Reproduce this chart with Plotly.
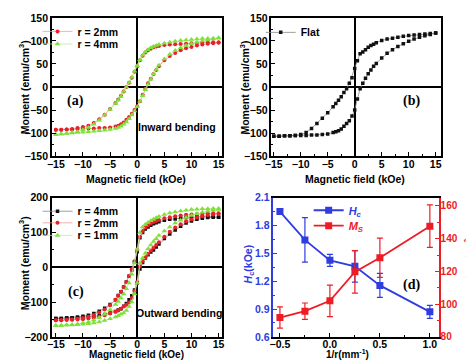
import plotly.graph_objects as go

# ---------------- data ----------------
H_DESC = [15, 14, 13, 12, 11, 10, 9, 8, 7, 6, 5, 4, 3.5, 3, 2.5, 2, 1.5, 1, 0.5, 0,
          -0.5, -1, -1.5, -2, -2.5, -3, -3.5, -4, -5, -6, -7, -8, -9, -10, -11, -12, -13, -14, -15]
H_ASC = [-15, -14, -13, -12, -11, -10, -9, -8, -7, -6, -5, -4, -3.5, -3, -2.5, -2, -1.5, -1, -0.5, 0,
         0.5, 1, 1.5, 2, 2.5, 3, 3.5, 4, 5, 6, 7, 8, 9, 10, 11, 12, 13, 14, 15]

# (a) inward bending
A_R2_UP = [97, 97, 96.5, 96, 95.5, 95, 94, 93.5, 93, 92, 91, 89,
           88, 86, 83, 80, 75, 68, 58, 45, 33, 20, 9, 0, -10, -19, -27, -35,
           -48, -60, -70, -78, -84, -87, -89, -91, -92, -93, -93]
A_R2_LO = [-93, -93, -92, -92, -91, -91, -90, -90, -89, -89, -88,
           -86, -84, -81, -77, -71, -65, -58, -50, -42, -31, -17, -4, 8, 18, 28, 37,
           45, 58, 67, 74, 80, 84, 87, 90, 92, 94, 95, 96]
A_R4_UP = [107, 106, 105.5, 105, 104, 103, 102, 101, 99, 97, 95, 92,
           90, 88, 85, 81, 76, 69, 59, 46, 34, 21, 10, 0, -10, -20, -28, -36,
           -49, -61, -72, -81, -88, -93, -97, -99, -101, -102, -103]
A_R4_LO = [-103, -102, -101, -100, -99, -98, -97, -96, -95, -94, -92,
           -90, -88, -85, -81, -76, -69, -61, -52, -43, -31, -19, -6, 6, 17, 28, 38,
           47, 61, 71, 79, 85, 90, 94, 97, 100, 102, 104, 106]

# (b) flat
B_UP = [117, 116, 115, 114, 113, 112, 110, 108, 106, 104, 101, 96,
        93, 90, 86, 81, 76, 72, 57, 40, 20, 8, -4, -12, -21, -29, -36, -43,
        -56, -68, -79, -90, -99, -103, -105, -106, -106, -107, -107]
B_LO = [-107, -107, -106, -106, -105, -105, -105, -104, -104, -103, -102,
        -99, -97, -95, -91, -85, -79, -73, -63, -50, -26, -4, 8, 19, 29, 37, 45,
        51, 63, 73, 81, 88, 94, 99, 104, 108, 111, 114, 117]

# (c) outward bending
C_R4_UP = [144, 146, 146, 146, 145, 144, 143, 142, 139, 138, 135, 131,
           128, 125, 121, 116, 110, 100, 85, 45, 15, -8, -26, -42, -57, -70, -81, -93,
           -107, -118, -126, -133, -138, -141, -143, -145, -146, -147, -147]
C_R4_LO = [-147, -147, -146, -146, -145, -144, -143, -142, -139, -136, -131,
           -127, -123, -119, -112, -104, -93, -82, -65, -45, -5, 14, 27, 36, 44, 50, 58,
           67, 83, 96, 107, 118, 127, 133, 138, 141, 143, 144, 144]
C_R2_UP = [155, 155, 155, 154, 153, 152, 151, 149, 147, 144, 141, 136,
           133, 130, 126, 121, 114, 104, 88, 50, 17, -6, -25, -42, -57, -70, -82, -93,
           -109, -121, -130, -137, -142, -146, -148, -150, -151, -152, -152]
C_R2_LO = [-152, -152, -151, -151, -150, -149, -147, -145, -142, -138, -133,
           -128, -124, -119, -113, -108, -101, -88, -68, -42, 3, 18, 29, 39, 48, 56, 64,
           72, 88, 102, 114, 124, 132, 138, 143, 147, 150, 152, 153]
C_R1_UP = [169, 169, 168, 168, 167, 166, 164, 162, 159, 156, 152, 146,
           142, 138, 134, 129, 123, 116, 100, 52, 12, -20, -45, -62, -77, -88, -98, -107,
           -122, -135, -145, -152, -157, -160, -163, -165, -166, -167, -167]
C_R1_LO = [-167, -167, -166, -166, -165, -164, -162, -160, -157, -153, -148,
           -143, -139, -135, -131, -124, -113, -100, -76, -45, 12, 27, 40, 53, 64, 74, 82,
           91, 104, 116, 127, 135, 143, 149, 154, 158, 161, 164, 166]

# (d) coercivity and saturation magnetisation vs curvature
INV_R = [-0.5, -0.25, 0.0, 0.25, 0.5, 1.0]
HC = [1.95, 1.645, 1.425, 1.36, 1.155, 0.87]
HC_ERR = [0.02, 0.24, 0.065, 0.17, 0.13, 0.07]
MS = [91.8, 95.7, 102.0, 119.7, 128.3, 147.6]
MS_ERR = [6.5, 5.0, 9.6, 13.0, 12.0, 13.0]

# ---------------- style ----------------
W, H = 474, 361
FONT = "Liberation Sans, Arial, sans-serif"
SERIF = "Liberation Serif, Times New Roman, serif"
RED = "#E8202A"
GREEN = "#7EE03A"
BLACK = "#111111"
BLUE = "#2E3CE0"
MRED = "#EE1C24"


def px(x):
    return x / W


def py(y):
    return 1 - y / H


def loop(up, lo):
    return H_DESC + H_ASC, up + lo


fig = go.Figure()


def hyst(up, lo, name, color, lcolor, symbol, size, xa, ya, legend):
    x, y = loop(up, lo)
    fig.add_trace(go.Scatter(
        x=x, y=y, mode="lines+markers", name=name,
        line=dict(color=lcolor, width=0.8),
        marker=dict(color=color, symbol=symbol, size=size, line=dict(width=0)),
        xaxis=xa, yaxis=ya, legend=legend, showlegend=True))


hyst(A_R2_UP, A_R2_LO, "r = 2mm", RED, "#F29A9A", "circle", 4, "x", "y", "legend")
hyst(A_R4_UP, A_R4_LO, "r = 4mm", GREEN, "#B8F090", "triangle-up", 5, "x", "y", "legend2")
hyst(B_UP, B_LO, "Flat", BLACK, "#888888", "square", 3.5, "x2", "y2", "legend3")
hyst(C_R4_UP, C_R4_LO, "r = 4mm", BLACK, "#888888", "square", 3.5, "x3", "y3", "legend4")
hyst(C_R2_UP, C_R2_LO, "r = 2mm", RED, "#F29A9A", "circle", 4, "x3", "y3", "legend5")
hyst(C_R1_UP, C_R1_LO, "r = 1mm", GREEN, "#B8F090", "triangle-up", 5, "x3", "y3", "legend6")

fig.add_trace(go.Scatter(
    x=INV_R, y=HC, name="<i>H<sub>c</sub></i>", mode="lines+markers",
    line=dict(color=BLUE, width=1.8),
    marker=dict(color=BLUE, symbol="square", size=7),
    error_y=dict(type="data", array=HC_ERR, color=BLUE, thickness=1.2, width=3),
    xaxis="x4", yaxis="y4", legend="legend7"))
fig.add_trace(go.Scatter(
    x=INV_R, y=MS, name="<i>M<sub>S</sub></i>", mode="lines+markers",
    line=dict(color=MRED, width=1.8),
    marker=dict(color=MRED, symbol="square", size=7),
    error_y=dict(type="data", array=MS_ERR, color=MRED, thickness=1.2, width=3),
    xaxis="x4", yaxis="y5", legend="legend8"))

TICKFONT = dict(family=FONT, size=10.5, color="black", weight="bold")


def axis(domain, rng, dtick, minor_dtick, anchor, zero=False, color="black", tickfont=None,
         mirror=True, **kw):
    d = dict(domain=domain, range=rng, dtick=dtick, tick0=0, anchor=anchor,
             showline=True, linecolor=color, linewidth=1.5, mirror=mirror,
             ticks="inside", ticklen=4, tickwidth=1.2, tickcolor=color,
             showgrid=False, zeroline=zero, zerolinecolor="black", zerolinewidth=1.5,
             tickfont=tickfont or TICKFONT,
             minor=dict(ticks="inside", ticklen=2, tickwidth=1, tickcolor=color,
                        dtick=minor_dtick, showgrid=False))
    d.update(kw)
    return d


XA = [px(37.7), px(211)]
XB = [px(262), px(434.7)]
XD = [px(264), px(433)]
YT = [py(147), py(4)]
YB = [py(334), py(190)]

fig.update_layout(
    width=W, height=H, autosize=False,
    margin=dict(l=0, r=0, t=0, b=0),
    paper_bgcolor="white", plot_bgcolor="white",
    font=dict(family=FONT, color="black"),
    xaxis=axis(XA, [-15.72, 15.54], 5, 2.5, "y", zero=True, ticklabelstandoff=-2),
    yaxis=axis(YT, [-150, 150], 50, 25, "x", zero=True),
    xaxis2=axis(XB, [-15.42, 15.9], 5, 2.5, "y2", zero=True, ticklabelstandoff=-2),
    yaxis2=axis(YT, [-150, 150], 50, 25, "x2", zero=True),
    xaxis3=axis(XA, [-15.72, 15.54], 5, 2.5, "y3", zero=True, ticklabelstandoff=-3),
    yaxis3=axis(YB, [-200, 200], 100, 50, "x3", zero=True),
    xaxis4=axis(XD, [-0.565, 1.09], 0.5, 0.25, "y4", tickformat=".1f", ticklabelstandoff=-3),
    yaxis4=axis(YB, [0.6, 2.1], 0.3, 0.15, "x4", color=BLUE, mirror=False,
                tickfont=dict(family=FONT, size=10.5, color=BLUE, weight="bold"),
                tickformat=".1f", tick0=0.6),
    yaxis5=axis(YB, [80, 165], 20, 10, "x4", color=MRED, mirror=False,
                tickfont=dict(family=FONT, size=10, color=MRED, weight="bold"),
                overlaying="y4", side="right", ticklabelstandoff=-2),
)

LEGFONT = dict(family=FONT, size=10.5, color="black", weight="bold")


def legend(xpix, ypix, font=LEGFONT):
    return dict(x=px(xpix), y=py(ypix), xanchor="left", yanchor="middle",
                bgcolor="rgba(0,0,0,0)", borderwidth=0, itemwidth=30,
                font=font, tracegroupgap=0)


fig.update_layout(
    legend=legend(23, 18),
    legend2=legend(23, 31),
    legend3=legend(251, 19),
    legend4=legend(23, 204),
    legend5=legend(23, 216),
    legend6=legend(23, 229),
    legend7=legend(300, 203, dict(family=FONT, size=11, color=BLUE, weight="bold")),
    legend8=legend(300, 219, dict(family=FONT, size=11, color=MRED, weight="bold")),
)

ann = []


def text(x, y, s, size=10.5, color="black", family=FONT, angle=0, xanchor="center"):
    ann.append(dict(x=px(x), y=py(y), xref="paper", yref="paper", text=s, showarrow=False,
                    font=dict(family=family, size=size, color=color), textangle=angle,
                    xanchor=xanchor, yanchor="middle"))


# axis titles
text(124, 171, "<b>Magnetic field (kOe)</b>")
text(347, 171, "<b>Magnetic field (kOe)</b>")
text(124, 352, "<b>Magnetic field (kOe)</b>", size=10)
text(340, 352, "<b>1/r(mm<sup>-1</sup>)</b>", size=10)
text(9, 76, "<b>Moment (emu/cm<sup>3</sup>)</b>", angle=-90)
text(234, 76, "<b>Moment (emu/cm<sup>3</sup>)</b>", angle=-90)
text(9, 258, "<b>Moment (emu/cm<sup>3</sup>)</b>", angle=-90)
text(239, 258, "<b><i>H</i><sub>c</sub>(kOe)</b>", color=BLUE, angle=-90)
text(464, 258, "<b><i>M<sub>s</sub></i>(emu/cm<sup>3</sup>)</b>", size=9, color=MRED, angle=-90)

# panel labels
text(62, 90, "<b>(a)</b>", size=14, family=SERIF)
text(405, 90, "<b>(b)</b>", size=14, family=SERIF)
text(62, 288, "<b>(c)</b>", size=14, family=SERIF)
text(405, 280, "<b>(d)</b>", size=14, family=SERIF)
text(166, 117, "<b>Inward bending</b>")
text(168, 309, "<b>Outward bending</b>")

fig.update_layout(annotations=ann)

fig.write_html("out.html")
